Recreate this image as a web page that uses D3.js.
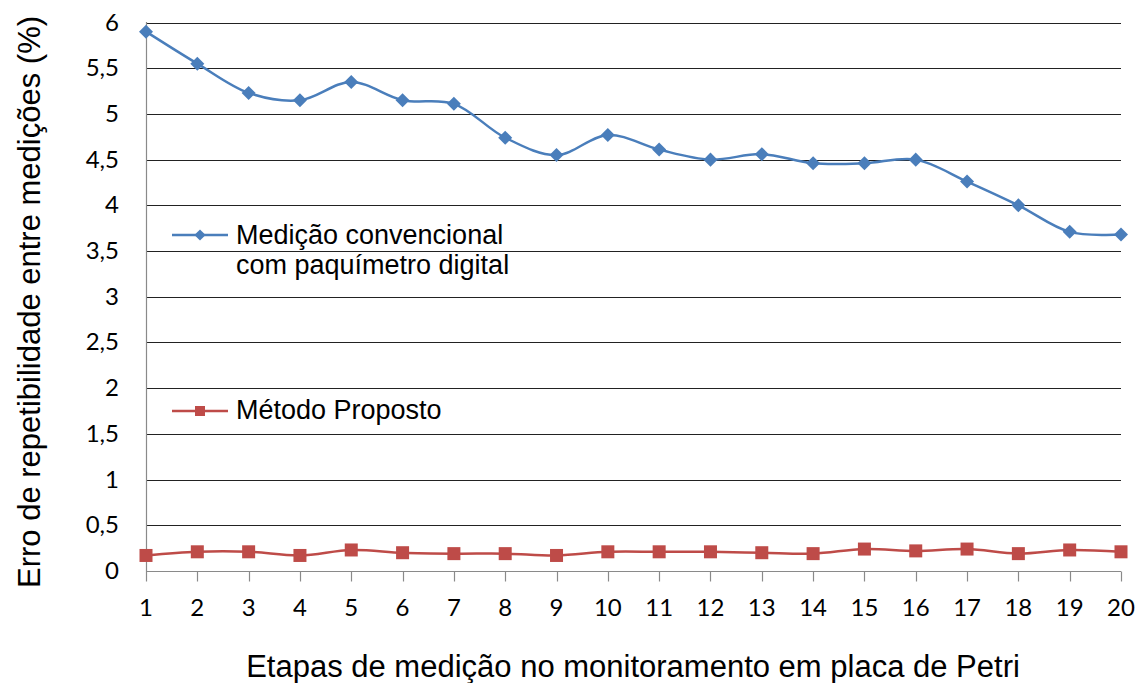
<!DOCTYPE html>
<html lang="pt-BR">
<head>
    <meta charset="UTF-8">
    <title>Erro de repetibilidade entre medições</title>
    <script src="https://d3js.org/d3.v7.min.js"></script>
    <style>
        body {
            margin: 0;
            background-color: #fff;
        }
        svg {
            display: block;
        }
        .tick-label {
            font-family: Lato, "Liberation Sans", sans-serif;
            font-size: 24px;
            fill: #000;
        }
        .title, .legend-text {
            font-family: "Liberation Sans", Arial, sans-serif;
            fill: #000;
        }
    </style>
</head>
<body>
    <div id="chart"></div>

    <script>
        // dados
        const etapas = d3.range(1, 21);
        const convencional = [5.9, 5.55, 5.23, 5.15, 5.35, 5.15, 5.11, 4.74, 4.55, 4.77,
                              4.61, 4.5, 4.56, 4.46, 4.46, 4.5, 4.26, 4.0, 3.71, 3.68];
        const proposto = [0.17, 0.21, 0.21, 0.17, 0.23, 0.2, 0.19, 0.19, 0.17, 0.21,
                          0.21, 0.21, 0.2, 0.19, 0.24, 0.22, 0.24, 0.19, 0.23, 0.21];
        const yTicks = [0, 0.5, 1, 1.5, 2, 2.5, 3, 3.5, 4, 4.5, 5, 5.5, 6];
        const serieNomes = [["Medição convencional", "com paquímetro digital"], ["Método Proposto"]];

        const width = 1143;
        const height = 683;
        const margin = { left: 146, right: 22, top: 22, bottom: 112 };

        const svg = d3.select("#chart")
            .append("svg")
            .attr("width", width)
            .attr("height", height);

        const x = d3.scaleLinear()
            .domain([1, 20])
            .range([margin.left, width - margin.right]);

        const y = d3.scaleLinear()
            .domain([0, 6])
            .range([height - margin.bottom, margin.top + 0.5]);

        // linhas de grade
        svg.append("g")
            .selectAll("line")
            .data(yTicks.filter(d => d > 0))
            .enter()
            .append("line")
            .attr("x1", margin.left)
            .attr("x2", width - margin.right)
            .attr("y1", d => Math.round(y(d)) + 0.5)
            .attr("y2", d => Math.round(y(d)) + 0.5)
            .attr("stroke", "#222")
            .attr("stroke-width", 1.2);

        // eixo x
        const x0 = Math.round(y(0)) + 0.5;
        svg.append("line")
            .attr("x1", margin.left).attr("x2", width - margin.right)
            .attr("y1", x0).attr("y2", x0)
            .attr("stroke", "#8a8a8a").attr("stroke-width", 1.2);

        svg.append("g")
            .selectAll("line")
            .data(etapas)
            .enter()
            .append("line")
            .attr("x1", d => Math.round(x(d)) + 0.5)
            .attr("x2", d => Math.round(x(d)) + 0.5)
            .attr("y1", x0)
            .attr("y2", x0 + 10)
            .attr("stroke", "#8a8a8a").attr("stroke-width", 1.2);

        // eixo y
        svg.append("line")
            .attr("x1", margin.left + 0.5).attr("x2", margin.left + 0.5)
            .attr("y1", margin.top).attr("y2", x0)
            .attr("stroke", "#8a8a8a").attr("stroke-width", 1.2);

        svg.append("g")
            .selectAll("text")
            .data(yTicks)
            .enter()
            .append("text")
            .attr("class", "tick-label")
            .attr("x", 119)
            .attr("y", d => y(d) + 8)
            .attr("text-anchor", "end")
            .text(d => String(d).replace(".", ","));

        svg.append("g")
            .selectAll("text")
            .data(etapas)
            .enter()
            .append("text")
            .attr("class", "tick-label")
            .attr("x", d => x(d))
            .attr("y", 616)
            .attr("text-anchor", "middle")
            .text(d => d);

        // títulos dos eixos
        svg.append("text")
            .attr("class", "title")
            .attr("x", 633)
            .attr("y", 677)
            .attr("text-anchor", "middle")
            .style("font-size", "31px")
            .text("Etapas de medição no monitoramento em placa de Petri");

        svg.append("text")
            .attr("class", "title")
            .attr("transform", "translate(40, 302) rotate(-90)")
            .attr("text-anchor", "middle")
            .style("font-size", "31px")
            .text("Erro de repetibilidade entre medições (%)");

        // séries
        const line = d3.line()
            .x((d, i) => x(etapas[i]))
            .y(d => y(d))
            .curve(d3.curveCatmullRom);

        const azul = "#4a7ebb";
        const vermelho = "#be4b48";

        svg.append("path")
            .datum(convencional)
            .attr("d", line)
            .attr("fill", "none")
            .attr("stroke", azul)
            .attr("stroke-width", 2.5);

        svg.append("g")
            .selectAll("path")
            .data(convencional)
            .enter()
            .append("path")
            .attr("d", d3.symbol(d3.symbolDiamond2, 125)())
            .attr("transform", (d, i) => `translate(${x(etapas[i])},${y(d)})`)
            .attr("fill", azul);

        svg.append("path")
            .datum(proposto)
            .attr("d", line)
            .attr("fill", "none")
            .attr("stroke", vermelho)
            .attr("stroke-width", 2.5);

        svg.append("g")
            .selectAll("rect")
            .data(proposto)
            .enter()
            .append("rect")
            .attr("x", (d, i) => x(etapas[i]) - 6.5)
            .attr("y", d => y(d) - 6.5)
            .attr("width", 13)
            .attr("height", 13)
            .attr("fill", vermelho);

        // legenda
        const legenda = svg.append("g");
        legenda.append("line")
            .attr("x1", 172).attr("x2", 228).attr("y1", 235).attr("y2", 235)
            .attr("stroke", azul).attr("stroke-width", 2.5);
        legenda.append("path")
            .attr("d", d3.symbol(d3.symbolDiamond2, 80)())
            .attr("transform", "translate(200,235)")
            .attr("fill", azul);
        legenda.append("text")
            .attr("class", "legend-text")
            .attr("x", 236)
            .attr("y", 244)
            .style("font-size", "27px")
            .selectAll("tspan")
            .data(serieNomes[0])
            .enter()
            .append("tspan")
            .attr("x", 236)
            .attr("dy", (d, i) => i === 0 ? 0 : 30)
            .text(d => d);

        legenda.append("line")
            .attr("x1", 172).attr("x2", 228).attr("y1", 411).attr("y2", 411)
            .attr("stroke", vermelho).attr("stroke-width", 2.5);
        legenda.append("rect")
            .attr("x", 195).attr("y", 406).attr("width", 10).attr("height", 10)
            .attr("fill", vermelho);
        legenda.append("text")
            .attr("class", "legend-text")
            .attr("x", 236)
            .attr("y", 419)
            .style("font-size", "27px")
            .text(serieNomes[1][0]);
    </script>
</body>
</html>
